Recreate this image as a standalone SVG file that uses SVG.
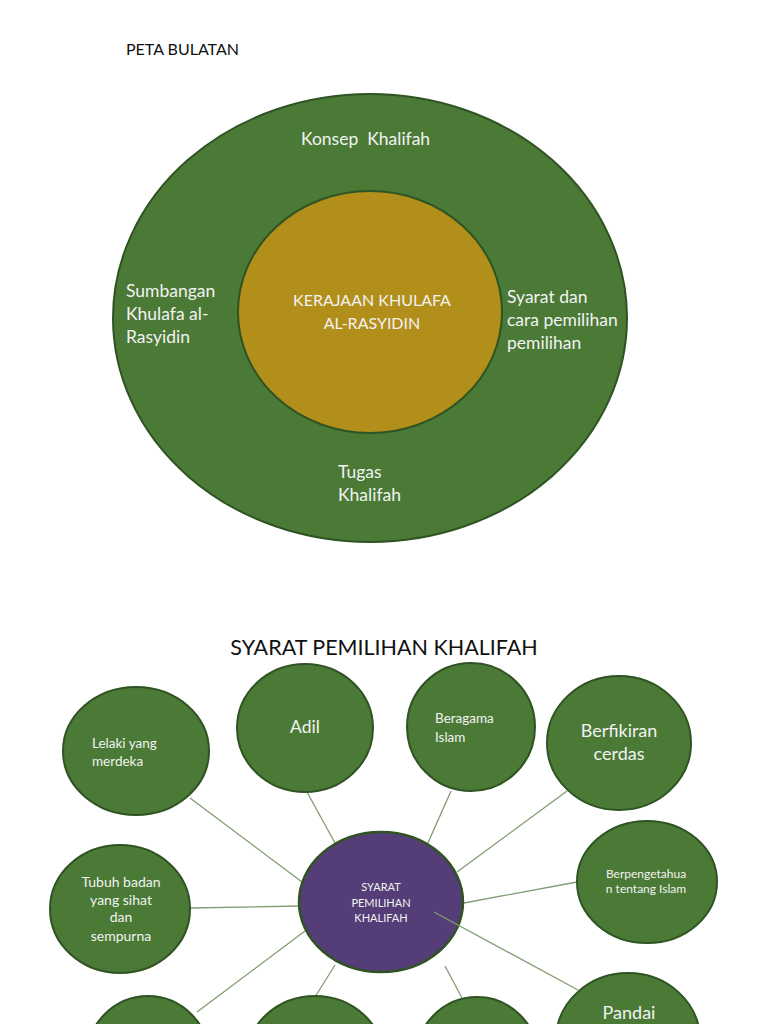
<svg xmlns="http://www.w3.org/2000/svg" width="768" height="1024" viewBox="0 0 768 1024">
<style>
.g{fill:#4a7a36;stroke:#2f5322;stroke-width:2}
.t{font-family:Lato,"Open Sans","Liberation Sans",sans-serif;fill:#f2f2f2}
.k{font-family:Lato,"Open Sans","Liberation Sans",sans-serif;fill:#111}
.c{text-anchor:middle}
.ln{stroke:#7f9c72;stroke-width:1.3;fill:none}
</style>
<rect width="768" height="1024" fill="#fff"/>
<text class="k" x="126" y="55" font-size="16">PETA BULATAN</text>
<g id="outer">
<ellipse class="g" cx="370" cy="318" rx="257" ry="224"/>
<text class="t" x="301" y="145" font-size="17.5" xml:space="preserve">Konsep  Khalifah</text>
<text class="t" x="126" y="297" font-size="17.5">Sumbangan</text>
<text class="t" x="126" y="320" font-size="17.5">Khulafa al-</text>
<text class="t" x="126" y="343" font-size="17.5">Rasyidin</text>
<text class="t" x="507" y="303" font-size="17.5">Syarat dan</text>
<text class="t" x="507" y="326" font-size="17.5">cara pemilihan</text>
<text class="t" x="507" y="349" font-size="17.5">pemilihan</text>
<text class="t" x="338" y="478" font-size="17.5">Tugas</text>
<text class="t" x="338" y="501" font-size="17.5">Khalifah</text>
</g>
<g id="inner">
<ellipse cx="370" cy="312" rx="132" ry="121" fill="#b28f1a" stroke="#2f5322" stroke-width="2"/>
<text class="t c" x="372" y="306" font-size="16">KERAJAAN KHULAFA</text>
<text class="t c" x="372" y="329" font-size="16">AL-RASYIDIN</text>
</g>
<text class="k c" x="384" y="655" font-size="21.5">SYARAT PEMILIHAN KHALIFAH</text>
<g id="connectors">
<line class="ln" x1="190" y1="798" x2="302" y2="882"/>
<line class="ln" x1="307" y1="792" x2="335" y2="843"/>
<line class="ln" x1="451" y1="791" x2="427" y2="845"/>
<line class="ln" x1="567" y1="791" x2="457" y2="872"/>
<line class="ln" x1="577" y1="882" x2="464" y2="903"/>
<line class="ln" x1="190" y1="908" x2="300" y2="906"/>
<line class="ln" x1="305" y1="931" x2="197" y2="1012"/>
<line class="ln" x1="335" y1="965" x2="315" y2="997"/>
<line class="ln" x1="445" y1="966" x2="462" y2="998"/>
</g>
<g id="n-lelaki"><ellipse class="g" cx="136" cy="751" rx="73" ry="64"/>
<text class="t" x="92" y="748" font-size="13.5">Lelaki yang</text><text class="t" x="92" y="766" font-size="13.5">merdeka</text></g>
<g id="n-adil"><ellipse class="g" cx="305" cy="728" rx="68" ry="64"/>
<text class="t c" x="305" y="733" font-size="17.5">Adil</text></g>
<g id="n-beragama"><ellipse class="g" cx="471" cy="727" rx="64" ry="64"/>
<text class="t" x="435" y="723" font-size="13.5">Beragama</text><text class="t" x="435" y="742" font-size="13.5">Islam</text></g>
<g id="n-berfikiran"><ellipse class="g" cx="619" cy="743" rx="72" ry="67"/>
<text class="t c" x="619" y="737" font-size="18">Berfikiran</text><text class="t c" x="619" y="760" font-size="18">cerdas</text></g>
<g id="n-berpengetahuan"><ellipse class="g" cx="647" cy="882" rx="70" ry="61"/>
<text class="t c" x="646" y="878" font-size="12">Berpengetahua</text><text class="t c" x="646" y="893" font-size="12">n tentang Islam</text></g>
<g id="n-tubuh"><ellipse class="g" cx="120" cy="909" rx="70" ry="64"/>
<text class="t c" x="121" y="887" font-size="14">Tubuh badan</text><text class="t c" x="121" y="905" font-size="14">yang sihat</text>
<text class="t c" x="121" y="922" font-size="14">dan</text><text class="t c" x="121" y="941" font-size="14">sempurna</text></g>
<g id="n-pandai"><ellipse class="g" cx="628" cy="1040" rx="72" ry="67"/>
<text class="t c" x="629" y="1019" font-size="18">Pandai</text></g>
<g id="n-b1"><ellipse class="g" cx="148" cy="1060" rx="62" ry="64"/></g>
<g id="n-b2"><ellipse class="g" cx="315" cy="1060" rx="69" ry="64"/></g>
<g id="n-b3"><ellipse class="g" cx="477" cy="1061" rx="62" ry="64"/></g>
<g id="n-center"><ellipse cx="381" cy="902" rx="82" ry="70" fill="#553d78" stroke="#2f5322" stroke-width="2.5"/>
<text class="t c" x="381" y="891" font-size="11">SYARAT</text><text class="t c" x="381" y="907" font-size="11">PEMILIHAN</text><text class="t c" x="381" y="922" font-size="11">KHALIFAH</text></g>
<line class="ln" x1="434" y1="912" x2="578" y2="990"/>
</svg>
